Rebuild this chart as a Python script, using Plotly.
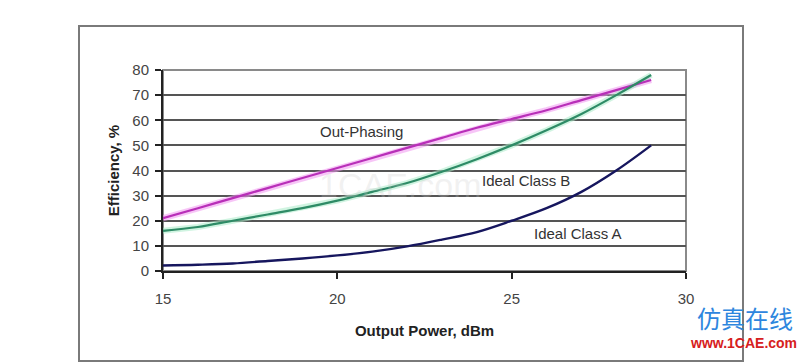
import plotly.graph_objects as go

# Data
power_dbm = [15, 16, 17, 18, 19, 20, 21, 22, 23, 24, 25, 26, 27, 28, 29]
out_phasing = [21, 25, 29, 33, 37, 41, 45, 49, 53, 57, 60.5, 64, 68, 72, 76]
class_b = [16, 17.5, 20, 22.5, 25, 28, 31.5, 35, 39.5, 44.5, 50, 56, 62.5, 70, 78]
class_a = [2.2, 2.5, 3, 4, 5, 6.2, 7.7, 9.8, 12.5, 15.5, 20, 25, 31.5, 40, 50]

x_ticks = [15, 20, 25, 30]
y_ticks = [0, 10, 20, 30, 40, 50, 60, 70, 80]

W, H = 806, 362
OFF = 8  # page body margin
# plot area bounds in screen pixels
SL, SR, ST, SB = 163, 686, 70, 271
L, R, T, B = SL - OFF, SR - OFF, ST - OFF, SB - OFF


def px(x):
    return (x - SL) / (SR - SL)


def py(y):
    return (SB - y) / (SB - ST)


FONT = "Liberation Sans, Arial, sans-serif"

fig = go.Figure()

# soft glows
fig.add_trace(go.Scatter(x=power_dbm, y=out_phasing, mode="lines",
                         line=dict(color="rgba(240,150,240,0.55)", width=6),
                         hoverinfo="skip", showlegend=False))
fig.add_trace(go.Scatter(x=power_dbm, y=class_b, mode="lines",
                         line=dict(color="rgba(170,235,200,0.55)", width=6),
                         hoverinfo="skip", showlegend=False))

fig.add_trace(go.Scatter(x=power_dbm, y=out_phasing, mode="lines", name="Out-Phasing",
                         line=dict(color="#B82FB8", width=2.2, shape="spline")))
fig.add_trace(go.Scatter(x=power_dbm, y=class_b, mode="lines", name="Ideal Class B",
                         line=dict(color="#2E8B66", width=2.2, shape="spline")))
fig.add_trace(go.Scatter(x=power_dbm, y=class_a, mode="lines", name="Ideal Class A",
                         line=dict(color="#16165E", width=2.4, shape="spline")))

fig.update_layout(
    width=W, height=H,
    margin=dict(l=L, r=W - R, t=T, b=H - B),
    paper_bgcolor="white", plot_bgcolor="white",
    showlegend=False,
    font=dict(family=FONT, size=14, color="#333333"),
)

fig.update_xaxes(
    range=[15, 30], tickvals=x_ticks, ticktext=[str(v) for v in x_ticks],
    ticks="outside", ticklen=6, tickcolor="#222", tickwidth=1.5,
    showline=True, linecolor="#222", linewidth=2,
    showgrid=False, zeroline=False, ticklabelstandoff=7,
    tickfont=dict(family=FONT, size=15, color="#444"),
    title=dict(text="<b>Output Power, dBm</b>", font=dict(family=FONT, size=15, color="#222"), standoff=19),
)
fig.update_yaxes(
    range=[0, 80], tickvals=y_ticks, ticktext=[str(v) for v in y_ticks],
    ticks="outside", ticklen=6, tickcolor="#222", tickwidth=1.5,
    showline=True, linecolor="#222", linewidth=2,
    showgrid=True, gridcolor="#555555", gridwidth=1.6,
    zeroline=False, ticklabelstandoff=3,
    tickfont=dict(family=FONT, size=15, color="#444"),
    title=dict(text="<b>Efficiency, %</b>", font=dict(family=FONT, size=15, color="#222"), standoff=9),
)

shapes = [
    # plot area border (top/right gray)
    dict(type="rect", xref="paper", yref="paper", x0=0, x1=1, y0=0, y1=1,
         line=dict(color="#8a8a8a", width=2), layer="below"),
    # outer frame
    dict(type="rect", xref="paper", yref="paper",
         x0=px(79), x1=px(743), y0=py(361), y1=py(26),
         line=dict(color="#7a7a7a", width=2)),
]
fig.update_layout(shapes=shapes)

annotations = [
    dict(x=20.7, y=55.5, text="Out-Phasing"),
    dict(x=25.4, y=36, text="Ideal Class B"),
    dict(x=26.9, y=14.8, text="Ideal Class A"),
]
for a in annotations:
    fig.add_annotation(x=a["x"], y=a["y"], text=a["text"], showarrow=False,
                       font=dict(family=FONT, size=15, color="#333"))

# faint center watermark
fig.add_annotation(x=px(400), y=py(185), xref="paper", yref="paper", text="1CAE.com",
                   showarrow=False, font=dict(family=FONT, size=34, color="rgba(200,200,200,0.25)"))
# corner watermark
fig.add_annotation(x=px(695), y=py(337), xref="paper", yref="paper", text="仿真在线",
                   xanchor="left", showarrow=False,
                   font=dict(family="Noto Sans CJK SC", size=24, color="#2E86DE"))
fig.add_annotation(x=px(688), y=py(353), xref="paper", yref="paper", text="<b>www.1CAE.com</b>",
                   xanchor="left", showarrow=False,
                   font=dict(family=FONT, size=14, color="#D62020"))

fig.write_html("out.html")
